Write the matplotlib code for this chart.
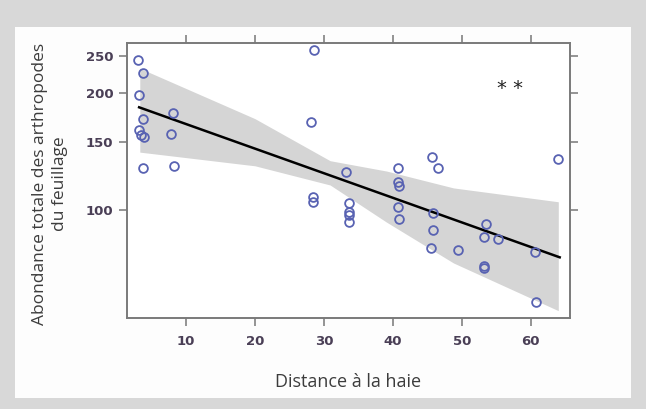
import numpy as np
import matplotlib
matplotlib.use("Agg")
import matplotlib.pyplot as plt
from matplotlib.patches import Rectangle

# points
dist = [3.0, 3.7, 3.2, 3.7, 3.2, 3.5, 3.9, 3.8, 8.1, 7.8, 8.3,
        28.6, 28.2, 28.4, 28.4, 33.2, 33.6, 33.6, 33.6, 33.6,
        40.7, 40.7, 40.9, 40.7, 40.9, 45.7, 46.5, 45.8, 45.8, 45.5, 49.5,
        53.5, 53.25, 53.25, 53.25, 55.2, 60.65, 60.8, 64.0]
abond = [244, 225, 198, 172, 161, 156, 154, 128, 178, 157, 130,
         259, 169, 108, 105, 125, 104, 99, 97, 93,
         128.5, 118, 115, 102, 95, 137, 128, 98, 89, 80, 79,
         92, 85, 71.5, 71, 84, 78, 58, 135]

# droite ajustée et intervalle de confiance
fit_x = [3.2, 64.2]
fit_y = [184, 75.5]
band_x = [3.3, 20, 30.9, 39.1, 48.8, 64.0]
band_hi = [232, 172, 134, 126, 114, 105]
band_lo = [141, 130, 116, 93, 73, 55]

xticks = [10, 20, 30, 40, 50, 60]
yticks = [100, 150, 200, 250]

fig = plt.figure(figsize=(6.46, 4.09), dpi=100, facecolor="#d8d8d8")
fig.patches.append(Rectangle((15 / 646, 11 / 409), 616 / 646, 371 / 409,
                             transform=fig.transFigure, facecolor="#fdfdfd",
                             edgecolor="none", zorder=-10))

ax = fig.add_axes([0.197, 0.2213, 0.6854, 0.6727])
ax.set_facecolor("white")
ax.set_yscale("log")

ax.fill_between(band_x, band_lo, band_hi, color="#d5d5d5", lw=0, zorder=1)
ax.plot(fit_x, fit_y, color="black", lw=1.8, zorder=3)
ax.plot(dist, abond, "o", mfc="none", mec="#5862b2", mew=1.3, ms=6.3, zorder=4)

ax.set_xlim(1.48, 65.7)
ax.set_ylim(52.5, 269)

ax.set_xticks(xticks)
ax.set_yticks(yticks)
ax.set_yticklabels([str(v) for v in yticks])
ax.yaxis.set_minor_locator(matplotlib.ticker.NullLocator())

ax.tick_params(axis="both", direction="out", length=6, width=1.1, color="#777777",
               labelsize=9.5, labelcolor="#4a3f56", top=True, right=True, pad=4)
ax.tick_params(axis="x", pad=6)
for lab in ax.get_xticklabels() + ax.get_yticklabels():
    lab.set_family(["Liberation Sans Narrow", "DejaVu Sans"])
    lab.set_weight("bold")

for s in ax.spines.values():
    s.set_color("#7a7a7a")
    s.set_linewidth(1.4)

ax.text(57, 206, "* *", fontsize=14, ha="center", va="center", color="#222222")

fig.text(348 / 646, 1 - 382 / 409, "Distance à la haie", ha="center", va="center",
         fontsize=13, color="#3c3c3c", family="Open Sans")
fig.text(50 / 646, 1 - 184 / 409, "Abondance totale des arthropodes\ndu feuillage",
         rotation=90, ha="center", va="center", multialignment="center",
         fontsize=12.5, color="#3c3c3c", family="Open Sans", linespacing=1.35)

fig.savefig("out.png", dpi=100, facecolor=fig.get_facecolor())
